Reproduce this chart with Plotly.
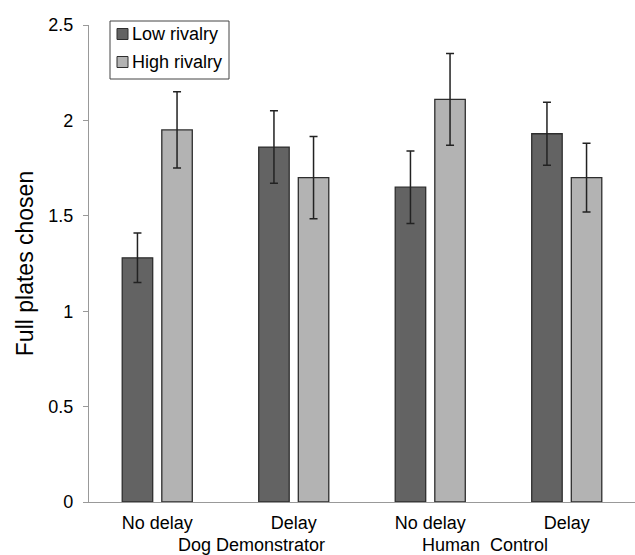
import plotly.graph_objects as go

conditions = ["No delay", "Delay", "No delay ", "Delay "]
tick_labels = ["No delay", "Delay", "No delay", "Delay"]
low_rivalry = [1.28, 1.86, 1.65, 1.93]
low_err = [0.13, 0.19, 0.19, 0.165]
high_rivalry = [1.95, 1.70, 2.11, 1.70]
high_err = [0.20, 0.215, 0.24, 0.18]
group_labels = ["Dog Demonstrator", "Human  Control"]
group_label_pos = [0.69, 2.40]

FONT = "Liberation Sans, Arial, sans-serif"
DARK = "#636363"
LIGHT = "#b3b3b3"
EDGE = "#2e2e2e"

fig = go.Figure()
fig.add_trace(go.Bar(
    name="Low rivalry", x=conditions, y=low_rivalry,
    marker=dict(color=DARK, line=dict(color=EDGE, width=1.3)),
    error_y=dict(type="data", array=low_err, color="#222", thickness=1.5, width=4),
    showlegend=False,
))
fig.add_trace(go.Bar(
    name="High rivalry", x=conditions, y=high_rivalry,
    marker=dict(color=LIGHT, line=dict(color=EDGE, width=1.3)),
    error_y=dict(type="data", array=high_err, color="#222", thickness=1.5, width=4),
    showlegend=False,
))

W, H = 635, 555
ML, MR, MT, MB = 89, 0, 25, 53
PW, PH = W - ML - MR, H - MT - MB

def px(x):
    return (x - ML) / PW

def py(y):
    return (H - MB - y) / PH

shapes = []
annotations = []
# manual legend box
shapes.append(dict(type="rect", xref="paper", yref="paper",
                   x0=px(110), x1=px(229), y0=py(79), y1=py(21),
                   line=dict(color="#444", width=1), fillcolor="white", layer="above"))
for name, col, yc in [("Low rivalry", DARK, 34), ("High rivalry", LIGHT, 62)]:
    shapes.append(dict(type="rect", xref="paper", yref="paper",
                       x0=px(117), x1=px(128), y0=py(yc + 5.5), y1=py(yc - 5.5),
                       line=dict(color=EDGE, width=1), fillcolor=col, layer="above"))
    annotations.append(dict(text=name, xref="paper", yref="paper", x=px(130), y=py(yc),
                            xanchor="left", yanchor="middle", showarrow=False,
                            font=dict(family=FONT, size=18, color="black")))

for lab, pos in zip(group_labels, group_label_pos):
    annotations.append(dict(text=lab, xref="x", yref="paper", x=pos, y=py(545),
                            xanchor="center", yanchor="middle", showarrow=False,
                            font=dict(family=FONT, size=18, color="black")))

fig.update_layout(
    width=W, height=H,
    margin=dict(l=ML, r=MR, t=MT, b=MB),
    paper_bgcolor="white", plot_bgcolor="white",
    barmode="group", bargap=0.42, bargroupgap=0.23,
    font=dict(family=FONT, size=18, color="black"),
    shapes=shapes, annotations=annotations,
    showlegend=False,
)
fig.update_xaxes(
    type="category", tickvals=conditions, ticktext=tick_labels,
    showline=True, linecolor="#999", linewidth=1.2,
    ticks="", showgrid=False, zeroline=False,
    ticklabelstandoff=4,
    tickfont=dict(family=FONT, size=18, color="black"),
)
fig.update_yaxes(
    range=[0, 2.5], tickvals=[0, 0.5, 1, 1.5, 2, 2.5],
    ticktext=["0", "0.5", "1", "1.5", "2", "2.5"],
    showline=True, linecolor="#999", linewidth=1.2,
    ticks="outside", ticklen=5, tickcolor="#999", tickwidth=1.2,
    showgrid=False, zeroline=False,
    ticklabelstandoff=6,
    tickfont=dict(family=FONT, size=18, color="black"),
    title=dict(text="Full plates chosen", font=dict(family=FONT, size=23, color="black"), standoff=8),
    automargin=False,
)
fig.write_html("out.html", config={"displayModeBar": False},
               post_script="document.body.style.margin='0';document.body.style.overflow='hidden';")
